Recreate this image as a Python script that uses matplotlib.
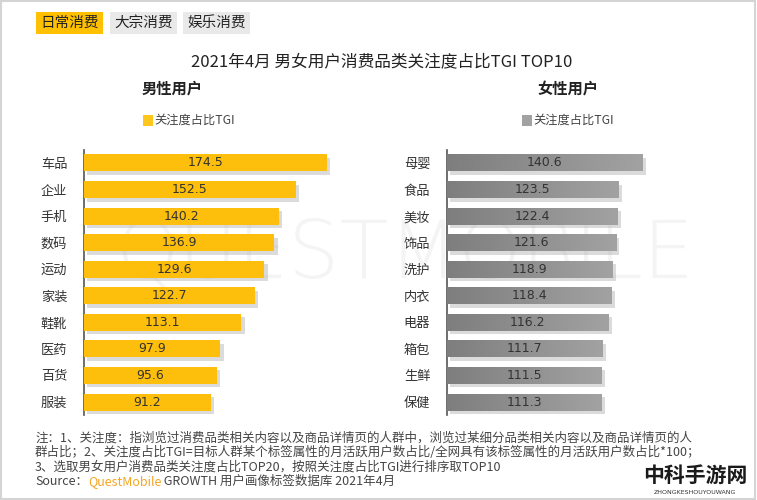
import matplotlib
matplotlib.use("Agg")
import matplotlib.pyplot as plt
import matplotlib.patheffects as pe
from matplotlib.patches import Rectangle
from matplotlib.colors import LinearSegmentedColormap
import numpy as np

plt.rcParams['font.family'] = ['Noto Sans CJK SC', 'DejaVu Sans']

# ---------------- data ----------------
male_cats = ["车品", "企业", "手机", "数码", "运动", "家装", "鞋靴", "医药", "百货", "服装"]
male_vals = [174.5, 152.5, 140.2, 136.9, 129.6, 122.7, 113.1, 97.9, 95.6, 91.2]
female_cats = ["母婴", "食品", "美妆", "饰品", "洗护", "内衣", "电器", "箱包", "生鲜", "保健"]
female_vals = [140.6, 123.5, 122.4, 121.6, 118.9, 118.4, 116.2, 111.7, 111.5, 111.3]
tabs = ["日常消费", "大宗消费", "娱乐消费"]
title = "2021年4月 男女用户消费品类关注度占比TGI TOP10"
legend_label = "关注度占比TGI"
notes = [
    "注：1、关注度：指浏览过消费品类相关内容以及商品详情页的人群中，浏览过某细分品类相关内容以及商品详情页的人",
    "群占比；2、关注度占比TGI=目标人群某个标签属性的月活跃用户数占比/全网具有该标签属性的月活跃用户数占比*100；",
    "3、选取男女用户消费品类关注度占比TOP20，按照关注度占比TGI进行排序取TOP10",
]

W, H = 757, 500
fig = plt.figure(figsize=(W / 100, H / 100), dpi=100)
fig.patch.set_facecolor("white")

def fx(px): return px / W
def fy(py): return 1 - py / H

# background axes for watermark (drawn beneath the bars)
bg = fig.add_axes([0, 0, 1, 1], zorder=-5)
bg.set_axis_off()
bg.set_xlim(0, 1); bg.set_ylim(0, 1)
bg.text(fx(405), fy(256), "QUESTMOBILE", ha="center", va="center", fontsize=58,
        color="#f4f4f4", family="DejaVu Sans", fontweight="light")
bg.add_patch(Rectangle((0.001, 0.002), 0.997, 0.996, fill=False,
                       edgecolor="#d4d4d4", linewidth=1.5))

# tabs
tab_x = [40, 114, 187]
tab_bg = ["#FFC000", "#E9E9E9", "#E9E9E9"]
for t, x, bgc in zip(tabs, tab_x, tab_bg):
    fig.text(fx(x), fy(23), t, ha="left", va="center", fontsize=10.5, color="#222",
             bbox=dict(boxstyle="square,pad=0.3", facecolor=bgc, edgecolor="none"))

fig.text(fx(382), fy(62), title, ha="center", va="center", fontsize=12, color="#222")

top_px, bot_px = 149.7, 415.3
scale_px = 1.39
ax_w_px = 280

def make_panel(x0_px, cats, vals, header, header_x, leg_x, colors, gradient):
    ax = fig.add_axes([fx(x0_px), fy(bot_px), fx(ax_w_px), (bot_px - top_px) / H])
    ax.set_facecolor("none")
    y = np.arange(len(cats))
    bars = ax.barh(y, vals, height=0.64, color=colors[0], zorder=3,
                   path_effects=[pe.SimplePatchShadow(offset=(2.5, -2.5), shadow_rgbFace="#999999", alpha=0.35),
                                 pe.Normal()])
    if gradient:
        grad = np.linspace(0, 1, 256).reshape(1, -1)
        cmap = LinearSegmentedColormap.from_list("g", colors)
        for b in bars:
            bx, by = b.get_x(), b.get_y()
            im = ax.imshow(grad, extent=[bx, bx + b.get_width(), by + b.get_height(), by],
                           aspect="auto", cmap=cmap, zorder=4, interpolation="bilinear")
            im.set_clip_path(b)
    for yi, v in zip(y, vals):
        ax.text(v / 2, yi, f"{v}", ha="center", va="center", fontsize=9,
                color="#333", family="DejaVu Sans", zorder=6)
    ax.set_xlim(0, ax_w_px / scale_px)
    ax.set_ylim(len(cats) - 0.5, -0.5)
    ax.set_yticks(y)
    ax.set_yticklabels(cats, fontsize=9.5, color="#333")
    ax.tick_params(axis="y", length=0, pad=12)
    ax.set_xticks([])
    for s in ["top", "right", "bottom"]:
        ax.spines[s].set_visible(False)
    ax.spines["left"].set_color("#555")
    ax.spines["left"].set_linewidth(1.2)
    fig.text(fx(header_x), fy(89), header, ha="left", va="center", fontsize=11,
             color="#222", fontweight="bold")
    fig.add_artist(Rectangle((fx(leg_x), fy(126)), fx(10), 11 / H, transform=fig.transFigure,
                             facecolor=colors[-1], edgecolor="none"))
    fig.text(fx(leg_x + 11), fy(120), legend_label, ha="left", va="center",
             fontsize=8.8, color="#444")
    return ax

make_panel(84, male_cats, male_vals, "男性用户", 142, 143, ["#FDBE0C", "#FFC61E"], False)
make_panel(447, female_cats, female_vals, "女性用户", 537, 522, ["#7E7E7E", "#A2A2A2"], True)

# notes
for i, line in enumerate(notes):
    fig.text(fx(35), fy(438 + i * 14.5), line, ha="left", va="center", fontsize=9, color="#444")
src = fig.text(fx(35), fy(481.5), "Source：", ha="left", va="center", fontsize=9, color="#444")
a1 = fig.text(0, 0, "", fontsize=9)
a1.remove()
a1 = plt.annotate("QuestMobile", xy=(1, 0), xycoords=src, va="bottom", ha="left",
                  fontsize=9, color="#F5A623", annotation_clip=False)
plt.annotate(" GROWTH 用户画像标签数据库 2021年4月", xy=(1, 0), xycoords=a1, va="bottom", ha="left",
             fontsize=9, color="#444", annotation_clip=False)

# site logo
fig.text(fx(695), fy(475), "中科手游网", ha="center", va="center", fontsize=15,
         fontweight="bold", color="#1a1a1a")
fig.text(fx(695), fy(492), "ZHONGKESHOUYOUWANG", ha="center", va="center", fontsize=4.5,
         color="#333", family="DejaVu Sans")

fig.savefig("out.png", dpi=100, facecolor="white")
